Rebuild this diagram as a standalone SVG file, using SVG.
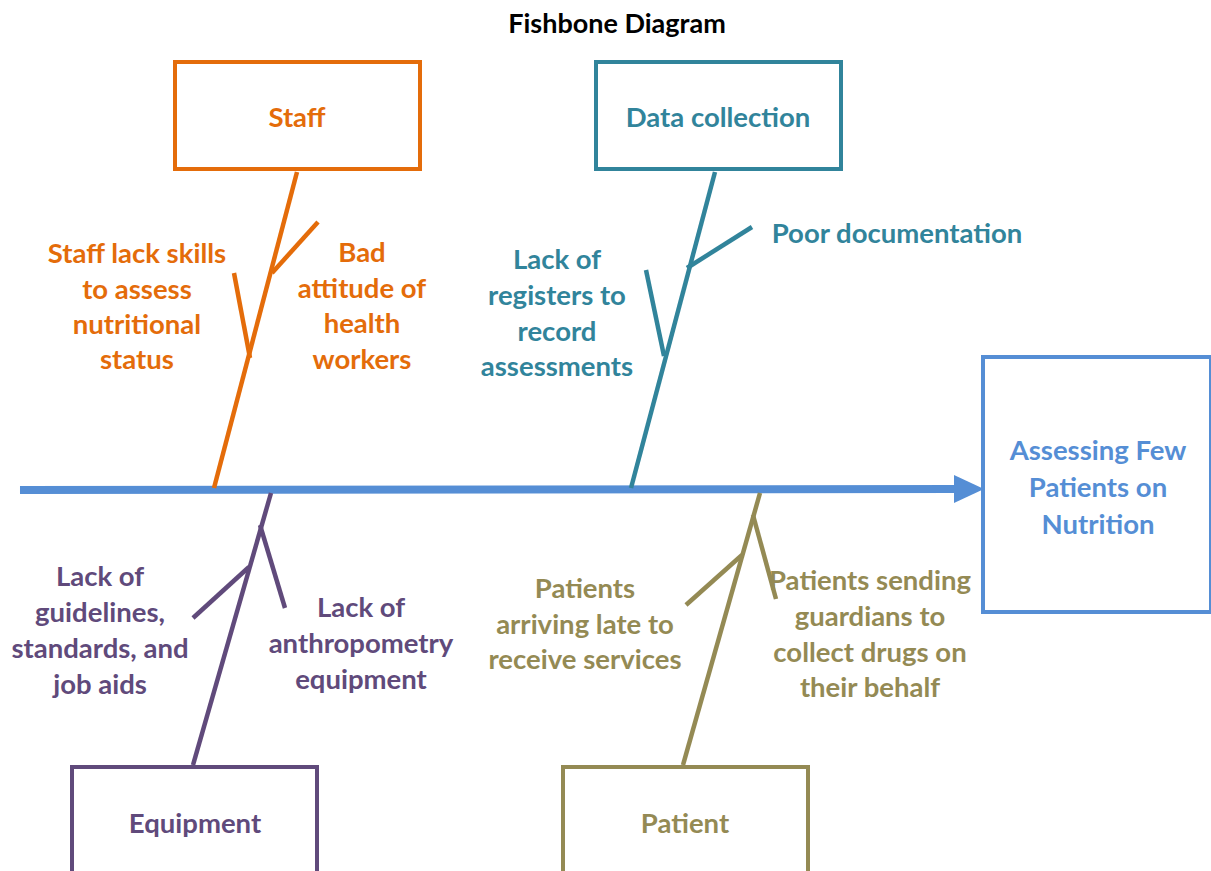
<svg xmlns="http://www.w3.org/2000/svg" width="1211" height="871" viewBox="0 0 1211 871">
<style>
text{font-family:Lato,"Open Sans","Liberation Sans",sans-serif;font-weight:700;text-anchor:middle;dominant-baseline:central}
.t{font-size:27.5px}
.box{fill:#fff;stroke-width:4}
.bone{stroke-width:4.5;fill:none;stroke-linecap:butt}
.staff{stroke:#E46C0A}.staffT{fill:#E46C0A}
.data{stroke:#31849B}.dataT{fill:#31849B}
.equip{stroke:#604A7B}.equipT{fill:#604A7B}
.pat{stroke:#948A54}.patT{fill:#948A54}
</style>
<rect width="1211" height="871" fill="#fff"/>
<text x="617" y="22" style="font-size:27px;fill:#000">Fishbone Diagram</text>
<g id="connectors">
<line x1="20" y1="490" x2="956" y2="489" stroke="#558ED5" stroke-width="8"/>
<polygon points="954,475 984,489 954,503" fill="#558ED5"/>
<line class="bone staff" x1="297" y1="172" x2="214" y2="488"/>
<line class="bone staff" x1="318" y1="222" x2="272" y2="273"/>
<line class="bone staff" x1="234" y1="273" x2="250" y2="358"/>
<line class="bone data" x1="715" y1="172" x2="631" y2="488"/>
<line class="bone data" x1="752" y1="227" x2="687" y2="268"/>
<line class="bone data" x1="646" y1="270" x2="664" y2="356"/>
<line class="bone equip" x1="271" y1="493" x2="193" y2="765"/>
<line class="bone equip" x1="249" y1="567" x2="193" y2="618"/>
<line class="bone equip" x1="260" y1="525" x2="285" y2="608"/>
<line class="bone pat" x1="760" y1="493" x2="683" y2="765"/>
<line class="bone pat" x1="742" y1="555" x2="686" y2="605"/>
<line class="bone pat" x1="753" y1="515" x2="776" y2="599"/>
</g>
<g id="staff">
<rect class="box staff" x="175" y="62" width="245" height="107"/>
<text class="t staffT" x="297" y="116">Staff</text>
</g>
<g id="staff-causes">
<text class="t staffT" x="137" y="252">Staff lack skills</text>
<text class="t staffT" x="137" y="288">to assess</text>
<text class="t staffT" x="137" y="323">nutritional</text>
<text class="t staffT" x="137" y="358">status</text>
<text class="t staffT" x="362" y="251">Bad</text>
<text class="t staffT" x="362" y="287">attitude of</text>
<text class="t staffT" x="362" y="322">health</text>
<text class="t staffT" x="362" y="358">workers</text>
</g>
<g id="data-collection">
<rect class="box data" x="596" y="62" width="245" height="107"/>
<text class="t dataT" x="718" y="116">Data collection</text>
</g>
<g id="data-causes">
<text class="t dataT" x="897" y="232">Poor documentation</text>
<text class="t dataT" x="557" y="258">Lack of</text>
<text class="t dataT" x="557" y="294">registers to</text>
<text class="t dataT" x="557" y="330">record</text>
<text class="t dataT" x="557" y="365">assessments</text>
</g>
<g id="effect">
<rect x="983" y="357" width="228" height="255" fill="#fff" stroke="#558ED5" stroke-width="4"/>
<text class="t" x="1098" y="449" fill="#558ED5">Assessing Few</text>
<text class="t" x="1098" y="486" fill="#558ED5">Patients on</text>
<text class="t" x="1098" y="523" fill="#558ED5">Nutrition</text>
</g>
<g id="equipment">
<rect class="box equip" x="72" y="767" width="245" height="120"/>
<text class="t equipT" x="195" y="822">Equipment</text>
</g>
<g id="equipment-causes">
<text class="t equipT" x="100" y="575">Lack of</text>
<text class="t equipT" x="100" y="611">guidelines,</text>
<text class="t equipT" x="100" y="647">standards, and</text>
<text class="t equipT" x="100" y="683">job aids</text>
<text class="t equipT" x="361" y="606">Lack of</text>
<text class="t equipT" x="361" y="642">anthropometry</text>
<text class="t equipT" x="361" y="678">equipment</text>
</g>
<g id="patient">
<rect class="box pat" x="563" y="767" width="245" height="120"/>
<text class="t patT" x="685" y="822">Patient</text>
</g>
<g id="patient-causes">
<text class="t patT" x="585" y="587">Patients</text>
<text class="t patT" x="585" y="623">arriving late to</text>
<text class="t patT" x="585" y="658">receive services</text>
<text class="t patT" x="870" y="579">Patients sending</text>
<text class="t patT" x="870" y="615">guardians to</text>
<text class="t patT" x="870" y="651">collect drugs on</text>
<text class="t patT" x="870" y="686">their behalf</text>
</g>
</svg>
